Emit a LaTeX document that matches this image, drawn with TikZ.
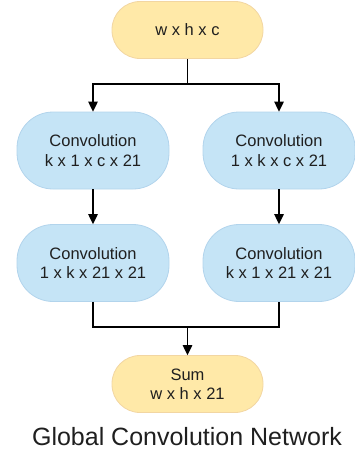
\documentclass[tikz,border=0pt]{standalone}
\usepackage{fontspec}
\setmainfont{Liberation Sans}
\usetikzlibrary{arrows.meta}

\definecolor{sumfill}{HTML}{FFE9A8}
\definecolor{sumline}{HTML}{F2D6A2}
\definecolor{convfill}{HTML}{C5E4F6}
\definecolor{convline}{HTML}{B2D4EC}

\tikzset{
    yellowbox/.style={draw=sumline, fill=sumfill, line width=0.8pt, rounded corners=28pt,
        minimum width=151pt, minimum height=57pt, align=center, inner sep=0pt,
        text=black!88, font=\fontsize{16.5}{19.5}\selectfont},
    bluebox/.style={draw=convline, fill=convfill, line width=0.8pt, rounded corners=36pt,
        minimum width=152pt, minimum height=77pt, align=center, inner sep=0pt,
        text=black!88, font=\fontsize{16.5}{19.5}\selectfont},
    link/.style={line width=1.4pt, -{Triangle[length=10pt,width=9.5pt]}}
}

\begin{document}
\begin{tikzpicture}[x=1pt, y=-1pt]

    \useasboundingbox (0, 0) rectangle (354, 455);

    \node[yellowbox] (input) at (187.5, 30) {w x h x c};

    \node[bluebox] (convka) at (93, 150.5) {Convolution\\k x 1 x c x 21};
    \node[bluebox] (convkb) at (279, 150.5) {Convolution\\1 x k x c x 21};

    \node[bluebox] (convla) at (93, 263) {Convolution\\1 x k x 21 x 21};
    \node[bluebox] (convlb) at (279, 263) {Convolution\\k x 1 x 21 x 21};

    \node[yellowbox] (sum) at (187.5, 384) {Sum\\w x h x 21};

    \node[font=\fontsize{25}{29}\selectfont, text=black!88] (title) at (187, 437) {Global Convolution Network};

    \coordinate (split) at (187.5, 84);
    \coordinate (merge) at (187.5, 327);

    \draw[line width=1.4pt] (input) -- (split);
    \draw[link] (split) -| (convka);
    \draw[link] (split) -| (convkb);

    \draw[link] (convka) -- (convla);
    \draw[link] (convkb) -- (convlb);

    \draw[line width=1.4pt] (convla) |- (merge) -| (convlb);
    \draw[link] (merge) -- (sum);

\end{tikzpicture}
\end{document}
